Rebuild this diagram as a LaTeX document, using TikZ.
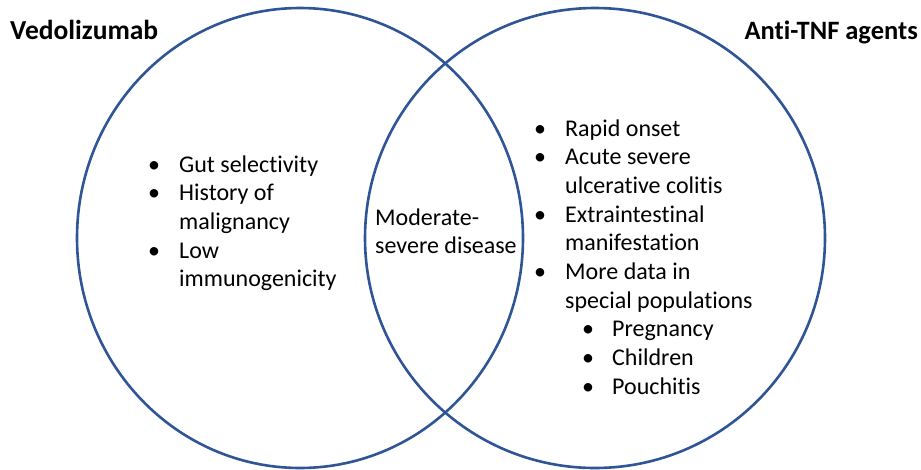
\documentclass[tikz,border=0pt]{standalone}
\usepackage{fontspec}
\setmainfont[Ligatures=NoCommon]{Carlito}
\definecolor{vennblue}{RGB}{47,85,151}
\begin{document}
\begin{tikzpicture}[x=1pt,y=-1pt,
  venn/.style={draw=vennblue,line width=2.6pt},
  txt/.style={anchor=base west,inner sep=0pt,font=\fontsize{24}{28}\selectfont},
  ttl/.style={anchor=base west,inner sep=0pt,font=\fontsize{27.5}{32}\selectfont\bfseries},
  bul/.style={anchor=base west,inner sep=0pt,font=\fontsize{24}{28}\selectfont}]
\useasboundingbox (0,0) rectangle (921,469);
\draw[venn] (300,238) ellipse [x radius=223, y radius=230];
\draw[venn] (595,238) ellipse [x radius=230, y radius=230];
\node[ttl] (t1) at (10,39) {Vedolizumab};
\node[ttl,anchor=base east,font=\fontsize{26.5}{32}\selectfont\bfseries] (t2) at (918,39) {Anti-TNF agents};
% left
\node[bul] (lb1) at (148,172) {•};
\node[txt] (l1) at (179,172) {Gut selectivity};
\node[bul] (lb2) at (148,200.7) {•};
\node[txt] (l2) at (179,200.7) {History of};
\node[txt] (l3) at (179,229.4) {malignancy};
\node[bul] (lb3) at (148,258.1) {•};
\node[txt] (l4) at (179,258.1) {Low};
\node[txt] (l5) at (179,286.8) {immunogenicity};
% middle
\node[txt] (m1) at (375,225) {Moderate-};
\node[txt] (m2) at (375,253.5) {severe disease};
% right
\node[bul] (rb1) at (534,136) {•};
\node[txt] (r1) at (565,136) {Rapid onset};
\node[bul] (rb2) at (534,164.7) {•};
\node[txt] (r2) at (565,164.7) {Acute severe};
\node[txt] (r3) at (565,193.4) {ulcerative colitis};
\node[bul] (rb3) at (534,222.1) {•};
\node[txt] (r4) at (565,222.1) {Extraintestinal};
\node[txt] (r5) at (565,250.8) {manifestation};
\node[bul] (rb4) at (534,279.5) {•};
\node[txt] (r6) at (565,279.5) {More data in};
\node[txt] (r7) at (565,308.2) {special populations};
\node[bul] (sb1) at (582,336.9) {•};
\node[txt] (s1) at (612,336.9) {Pregnancy};
\node[bul] (sb2) at (582,365.6) {•};
\node[txt] (s2) at (612,365.6) {Children};
\node[bul] (sb3) at (582,394.3) {•};
\node[txt] (s3) at (612,394.3) {Pouchitis};
\end{tikzpicture}
\end{document}
